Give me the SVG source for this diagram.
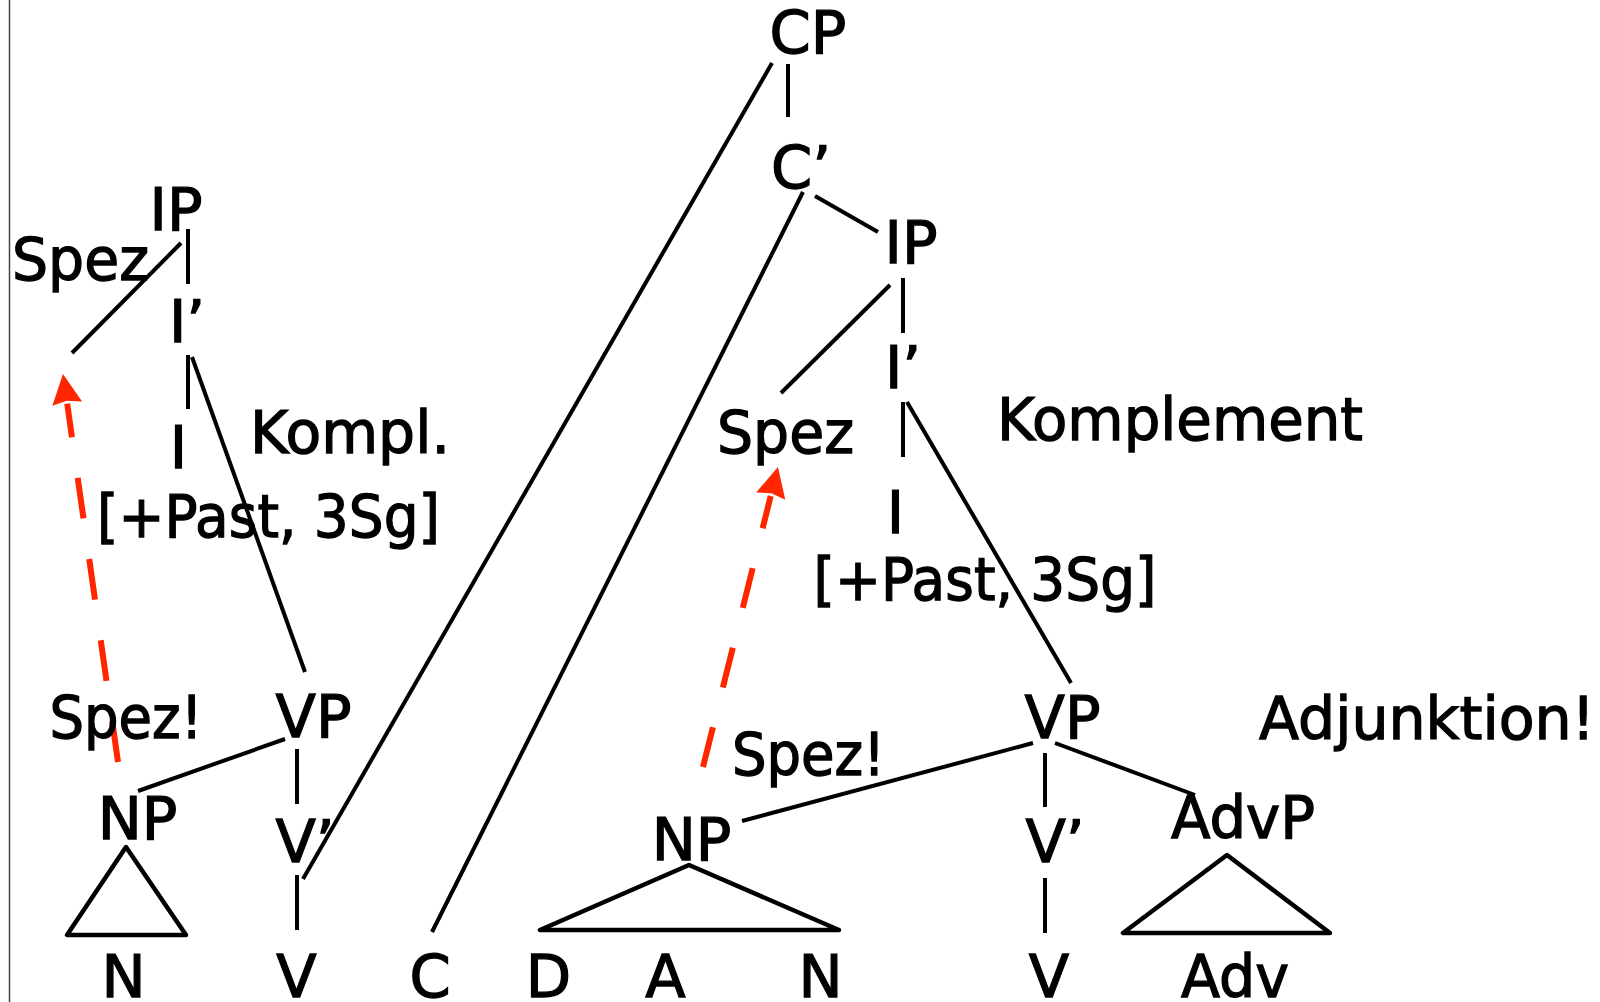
<svg xmlns="http://www.w3.org/2000/svg" width="1600" height="1002" viewBox="0 0 1600 1002">
  <style>
    text { font-family: "DejaVu Sans", "Liberation Sans", sans-serif; font-size: 59px; fill: #000; stroke: #000; stroke-width: 1.3; text-anchor: middle; }
    .edge { stroke: #000; stroke-width: 4; fill: none; stroke-linecap: butt; }
    .roof { stroke: #000; stroke-width: 4.5; fill: none; stroke-linejoin: round; }
    .move { stroke: #ff2600; stroke-width: 6; fill: none; stroke-dasharray: 41 41; marker-end: url(#head); }
  </style>
  <defs>
    <marker id="head" markerUnits="userSpaceOnUse" markerWidth="32" markerHeight="32" refX="0" refY="15" orient="auto" overflow="visible">
      <path d="M0,0 L30,15 L0,30 L3,15 z" fill="#ff2600"/>
    </marker>
  </defs>

  <rect width="1600" height="1002" fill="#fff"/>
  <line x1="9.5" y1="0" x2="9.5" y2="1002" stroke="#444" stroke-width="1.5"/>

  <!-- tree edges, roofs and movement arrows -->
  <g id="connectors">
    <!-- left tree -->
    <line class="edge" x1="188" y1="229" x2="188" y2="284"/>
    <line class="edge" x1="181" y1="243" x2="72" y2="353"/>
    <line class="edge" x1="188" y1="355" x2="188" y2="409"/>
    <line class="edge" x1="192" y1="357" x2="305" y2="672"/>
    <line class="edge" x1="285" y1="739" x2="138" y2="791"/>
    <line class="edge" x1="297" y1="749" x2="297" y2="804"/>
    <line class="edge" x1="297" y1="875" x2="297" y2="930"/>
    <polygon class="roof" points="126,847 67,935 186,935"/>
    <!-- long branches from CP and C' -->
    <line class="edge" x1="303" y1="879" x2="772" y2="63"/>
    <line class="edge" x1="803" y1="192" x2="432" y2="932"/>
    <!-- right tree -->
    <line class="edge" x1="788" y1="64" x2="788" y2="117"/>
    <line class="edge" x1="815" y1="196" x2="878" y2="232"/>
    <line class="edge" x1="903" y1="278" x2="903" y2="333"/>
    <line class="edge" x1="890" y1="285" x2="781" y2="393"/>
    <line class="edge" x1="903" y1="402" x2="903" y2="457"/>
    <line class="edge" x1="907" y1="402" x2="1071" y2="683"/>
    <line class="edge" x1="1033" y1="743" x2="742" y2="821"/>
    <line class="edge" x1="1055" y1="743" x2="1195" y2="795"/>
    <line class="edge" x1="1045" y1="753" x2="1045" y2="807"/>
    <line class="edge" x1="1045" y1="878" x2="1045" y2="933"/>
    <polygon class="roof" points="689,865 540,930 839,930"/>
    <polygon class="roof" points="1227,855 1123,933 1330,933"/>
    <!-- movement to the specifier positions -->
    <line class="move" x1="118" y1="762" x2="67.2" y2="403.7"/>
    <line class="move" x1="703" y1="767" x2="770.7" y2="496.1"/>
  </g>

  <!-- left tree nodes -->
  <g id="ip-left"><text x="176" y="230">IP</text></g>
  <g id="spez-left"><text x="80.5" y="280" textLength="137" lengthAdjust="spacingAndGlyphs">Spez</text></g>
  <g id="ibar-left"><text x="187" y="342">I’</text></g>
  <g id="i-left"><text x="178.5" y="468">I</text></g>
  <g id="kompl-left"><text x="350" y="453" textLength="200" lengthAdjust="spacingAndGlyphs">Kompl.</text></g>
  <g id="features-left"><text x="268.5" y="537" textLength="343" lengthAdjust="spacingAndGlyphs">[+Past, 3Sg]</text></g>
  <g id="spez-note-left"><text x="126" y="738" textLength="153" lengthAdjust="spacingAndGlyphs">Spez!</text></g>
  <g id="vp-left"><text x="313.5" y="737">VP</text></g>
  <g id="np-left"><text x="137.5" y="839">NP</text></g>
  <g id="vbar-left"><text x="305" y="862">V’</text></g>
  <g id="n-left"><text x="123.5" y="997">N</text></g>
  <g id="v-left"><text x="296.5" y="997">V</text></g>
  <g id="c-head"><text x="430" y="997">C</text></g>

  <!-- right tree nodes -->
  <g id="cp"><text x="808" y="53">CP</text></g>
  <g id="cbar"><text x="801" y="188">C’</text></g>
  <g id="ip-right"><text x="911" y="263">IP</text></g>
  <g id="ibar-right"><text x="903" y="388">I’</text></g>
  <g id="spez-right"><text x="785.5" y="453" textLength="137" lengthAdjust="spacingAndGlyphs">Spez</text></g>
  <g id="komplement"><text x="1180" y="440" textLength="366" lengthAdjust="spacingAndGlyphs">Komplement</text></g>
  <g id="i-right"><text x="895.5" y="533">I</text></g>
  <g id="features-right"><text x="985" y="600" textLength="343" lengthAdjust="spacingAndGlyphs">[+Past, 3Sg]</text></g>
  <g id="vp-right"><text x="1062.5" y="738">VP</text></g>
  <g id="spez-note-right"><text x="808.5" y="775" textLength="153" lengthAdjust="spacingAndGlyphs">Spez!</text></g>
  <g id="adjunktion"><text x="1427" y="739" textLength="336" lengthAdjust="spacingAndGlyphs">Adjunktion!</text></g>
  <g id="np-right"><text x="691.5" y="860">NP</text></g>
  <g id="vbar-right"><text x="1055" y="862">V’</text></g>
  <g id="advp"><text x="1243" y="838" textLength="144" lengthAdjust="spacingAndGlyphs">AdvP</text></g>
  <g id="d"><text x="548.5" y="997">D</text></g>
  <g id="a"><text x="665.5" y="997">A</text></g>
  <g id="n-right"><text x="820.5" y="997">N</text></g>
  <g id="v-right"><text x="1049" y="997">V</text></g>
  <g id="adv"><text x="1235" y="997" textLength="108" lengthAdjust="spacingAndGlyphs">Adv</text></g>
</svg>
